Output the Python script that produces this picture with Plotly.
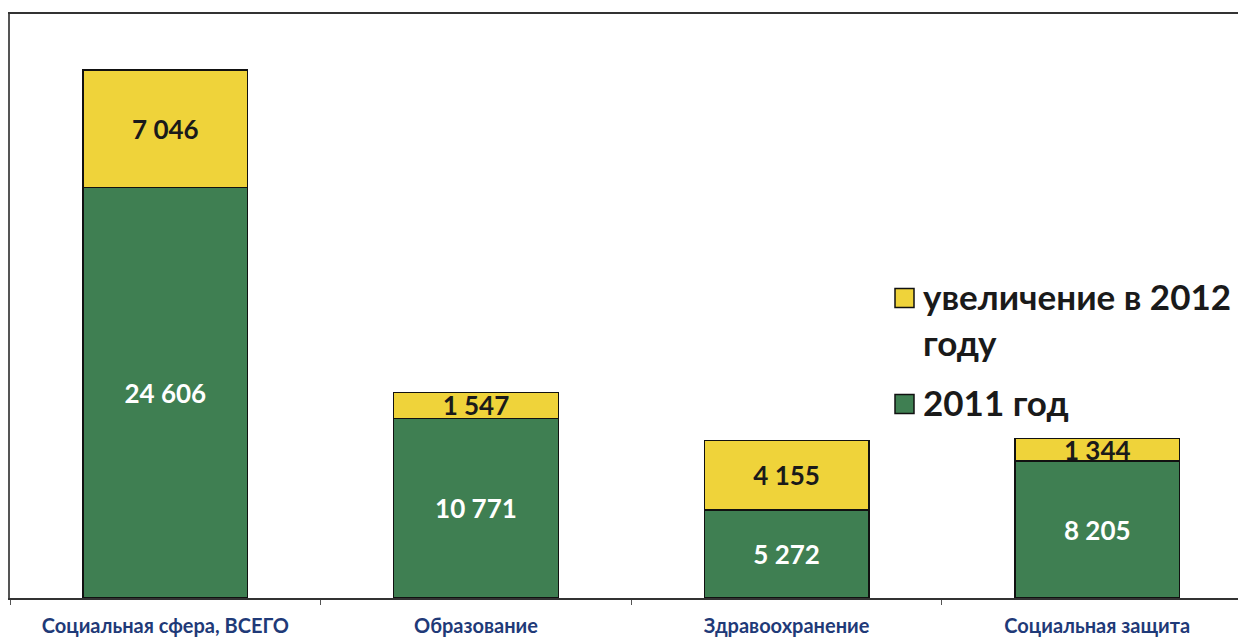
import plotly.graph_objects as go

categories = ["Социальная сфера, ВСЕГО", "Образование", "Здравоохранение", "Социальная защита"]
base_2011 = [24606, 10771, 5272, 8205]
increase_2012 = [7046, 1547, 4155, 1344]
series_names = ["2011 год", "увеличение в 2012<br>году"]

GREEN = "#3f7f52"
YELLOW = "#efd33a"
FONT = "Lato"

def fmt(v):
    return f"{v:,}".replace(",", " ")

fig = go.Figure()
fig.add_trace(go.Bar(
    x=categories, y=base_2011, name=series_names[0],
    marker=dict(color=GREEN, line=dict(color="#111111", width=1.5)),
    text=[fmt(v) for v in base_2011], textposition="inside",
    insidetextanchor="middle", constraintext="none",
    textfont=dict(family=FONT, size=26, color="white", weight="bold"),
    width=0.53, showlegend=False,
))
fig.add_trace(go.Bar(
    x=categories, y=increase_2012, name=series_names[1],
    marker=dict(color=YELLOW, line=dict(color="#111111", width=1.5)),
    text=[fmt(v) for v in increase_2012], textposition="inside",
    insidetextanchor="middle", constraintext="none",
    textfont=dict(family=FONT, size=26, color="#1a1a1a", weight="bold"),
    width=0.53, showlegend=False,
))

# page body has an 8px offset; margins compensate so the plot sits at x 10..1246, y 14..598
L, T, R, B = 2, 6, 8, 48
W, H = 1246, 638
pw, ph = W - L - R, H - T - B

def px_x(x):  # screen x -> paper
    return (x - 8 - L) / pw

def px_y(y):  # screen y -> paper
    return 1 - (y - 8 - T) / ph

legend_items = [(series_names[1], YELLOW, 298), (series_names[0], GREEN, 404)]
for name, col, yc in legend_items:
    fig.add_shape(type="rect", xref="paper", yref="paper",
                  x0=px_x(895), x1=px_x(914), y0=px_y(yc - 9.5), y1=px_y(yc + 9.5),
                  fillcolor=col, line=dict(color="#111111", width=1.5))
    fig.add_annotation(xref="paper", yref="paper", x=px_x(921), y=px_y(yc - 25),
                       xanchor="left", yanchor="top", text=name, showarrow=False,
                       align="left",
                       font=dict(family=FONT, size=35, color="#1a1a1a", weight="bold"))

fig.update_layout(
    barmode="stack",
    width=W, height=H,
    margin=dict(l=L, r=R, t=T, b=B),
    paper_bgcolor="white", plot_bgcolor="white",
    font=dict(family=FONT),
    showlegend=False,
    xaxis=dict(
        type="category", range=[-0.5, 3.479],
        showline=True, linecolor="#333333", linewidth=1.5, mirror=True,
        ticks="outside", tickson="boundaries", ticklen=5, tickcolor="#555555",
        ticklabelstandoff=9,
        tickfont=dict(family=FONT, size=20, color="#1f3a78", weight="bold"),
        showgrid=False, zeroline=False,
    ),
    yaxis=dict(
        range=[0, 35000], showticklabels=False, showgrid=False, zeroline=False,
        showline=True, linecolor="#555555", linewidth=1.5,
        ticks="",
    ),
)

fig.write_html("out.html")
